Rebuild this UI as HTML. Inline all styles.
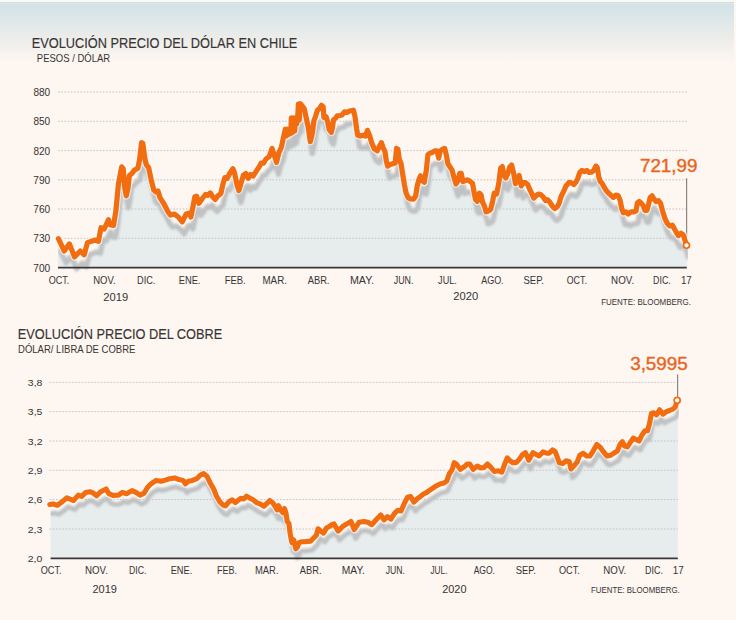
<!DOCTYPE html>
<html><head><meta charset="utf-8"><title>Evolución precio del dólar y del cobre</title>
<style>html,body{margin:0;padding:0;background:#fdf6f1;width:736px;height:620px;overflow:hidden}svg{display:block}</style>
</head><body>
<svg width="736" height="620" viewBox="0 0 736 620">
<defs>
<linearGradient id="bg" x1="0" y1="0" x2="0" y2="1">
<stop offset="0" stop-color="#d2e2e8"/>
<stop offset="0.5" stop-color="#e8ebe9"/>
<stop offset="1" stop-color="#fdf6f1"/>
</linearGradient>
<filter id="bl" x="-5%" y="-20%" width="110%" height="140%"><feGaussianBlur stdDeviation="0.95"/></filter>
<clipPath id="cl1"><rect x="58.0" y="80" width="629.8" height="200"/></clipPath>
<clipPath id="cl2"><rect x="50.6" y="370" width="628.2" height="200"/></clipPath>
</defs>
<rect width="736" height="620" fill="#fdf6f1"/>
<rect x="0" y="0" width="736" height="2" fill="#f6f9f4"/>
<rect x="0" y="2" width="734" height="1.5" fill="#d6dedf"/>
<rect x="0" y="3.5" width="734" height="58" fill="url(#bg)"/>
<path d="M58.0,267.6 L58.0,250.7 L60.4,250.7 L66.2,263.0 L71.4,255.9 L76.5,267.6 L82.3,263.0 L86.2,266.8 L89.4,254.6 L97.2,252.0 L100.4,253.3 L103.0,239.7 L106.2,241.0 L110.4,231.7 L112.2,236.9 L115.5,237.3 L117.8,223.4 L120.4,196.2 L123.7,178.8 L125.2,180.7 L126.8,200.0 L128.3,207.8 L130.0,200.0 L131.4,187.5 L133.9,185.5 L136.4,182.1 L139.8,180.3 L141.5,172.0 L143.6,154.6 L144.9,155.5 L146.9,171.0 L148.4,176.8 L150.7,179.7 L153.3,192.3 L155.8,202.0 L158.1,203.9 L160.0,202.9 L162.0,209.7 L165.8,215.5 L169.7,223.2 L172.6,227.1 L176.5,226.1 L180.3,229.0 L184.2,233.9 L188.1,226.1 L191.0,225.2 L192.9,229.0 L194.8,219.4 L196.8,208.7 L198.6,208.1 L201.0,215.4 L204.3,210.5 L207.5,206.5 L209.9,207.3 L212.3,204.9 L214.7,208.9 L217.2,211.4 L219.6,208.1 L222.8,205.7 L225.2,195.2 L226.8,189.6 L229.3,190.4 L231.7,185.5 L234.9,180.7 L236.5,184.7 L239.0,196.8 L240.9,202.5 L243.0,195.2 L245.4,187.2 L247.8,185.5 L250.2,190.4 L252.6,186.4 L255.1,188.0 L258.3,183.1 L261.5,178.3 L263.1,175.1 L265.5,175.1 L268.0,171.0 L271.2,168.6 L274.1,160.5 L276.0,166.2 L278.5,174.3 L280.9,164.6 L283.3,159.5 L285.2,150.5 L287.3,141.2 L288.4,148.0 L289.5,141.2 L290.6,146.5 L291.8,141.2 L292.8,145.5 L293.3,129.8 L294.4,144.5 L295.5,129.8 L296.6,143.0 L297.7,129.8 L298.6,136.0 L299.6,129.8 L300.4,116.0 L301.2,132.0 L302.0,115.5 L303.2,116.5 L304.3,118.1 L306.2,120.5 L307.8,127.8 L310.2,139.1 L312.3,153.6 L314.3,145.5 L315.9,132.6 L317.5,128.6 L319.4,122.2 L321.5,120.5 L323.6,117.3 L325.2,118.9 L325.9,129.4 L328.0,128.6 L329.6,133.5 L331.2,141.5 L333.3,144.3 L334.4,139.9 L335.5,131.8 L337.6,130.2 L339.3,127.8 L341.7,127.5 L344.1,127.0 L346.5,123.8 L348.9,124.6 L351.4,123.0 L355.4,122.2 L357.0,128.6 L358.6,140.7 L359.7,147.2 L362.6,148.0 L365.1,147.2 L367.5,148.0 L369.4,142.3 L371.5,147.2 L373.9,155.2 L376.4,160.9 L379.4,162.8 L381.5,158.0 L383.5,154.7 L385.1,159.6 L387.0,163.6 L388.3,172.5 L389.6,178.1 L392.3,176.5 L394.7,175.7 L397.2,174.9 L398.5,160.4 L399.9,161.2 L401.2,170.9 L403.1,175.7 L404.7,186.2 L406.4,196.7 L408.0,204.7 L410.1,209.6 L412.5,210.9 L415.4,211.2 L417.6,208.0 L419.3,197.5 L420.9,191.8 L422.6,187.8 L424.1,192.6 L426.2,194.3 L428.3,182.2 L429.9,166.8 L431.8,165.2 L434.3,164.4 L436.7,162.8 L439.1,162.8 L440.7,170.1 L442.3,162.8 L444.7,161.2 L446.7,160.4 L448.3,166.8 L449.9,175.7 L452.0,178.9 L454.1,182.2 L456.0,189.4 L458.0,195.9 L460.1,192.6 L461.7,185.4 L463.3,185.4 L464.9,193.5 L467.3,192.6 L469.7,191.8 L472.2,193.5 L474.5,195.3 L476.1,204.2 L477.6,211.7 L479.3,213.3 L481.4,205.2 L483.0,206.8 L484.6,214.1 L486.5,218.1 L488.1,223.8 L490.5,223.0 L492.6,221.4 L494.6,213.3 L496.2,205.2 L498.6,206.0 L500.7,195.5 L502.6,180.2 L504.3,178.6 L505.9,187.5 L507.8,189.9 L509.9,185.1 L511.5,179.4 L513.6,177.0 L515.5,184.3 L517.5,195.5 L519.6,192.3 L521.2,187.5 L523.3,198.0 L525.2,194.7 L527.6,194.7 L529.7,196.4 L531.7,201.2 L533.6,205.2 L535.7,210.1 L538.1,207.6 L540.5,206.0 L543.0,206.8 L545.4,209.3 L547.5,212.5 L549.4,211.7 L551.8,214.1 L554.3,218.1 L556.7,220.5 L559.1,218.9 L561.0,215.7 L563.1,208.5 L565.5,203.6 L568.0,198.0 L571.0,194.4 L573.5,194.9 L575.9,196.5 L578.0,194.1 L579.9,190.1 L581.8,184.4 L583.9,182.5 L586.4,183.6 L588.8,182.5 L591.2,184.4 L593.6,184.1 L595.7,182.5 L598.0,178.0 L599.3,179.6 L600.9,189.3 L602.2,193.3 L604.4,195.7 L606.5,199.7 L608.6,203.0 L610.9,205.4 L613.5,207.8 L615.4,209.4 L617.8,207.0 L620.2,207.8 L622.2,212.6 L623.8,220.7 L625.4,224.7 L628.0,223.9 L630.2,226.0 L632.8,223.9 L635.5,223.9 L638.0,223.1 L639.3,215.1 L641.2,213.5 L643.1,215.1 L645.2,217.5 L646.8,222.3 L648.9,222.3 L650.5,216.7 L652.2,209.4 L654.1,207.8 L656.0,211.0 L658.1,213.5 L660.5,212.6 L662.5,215.1 L664.6,223.0 L667.0,230.7 L669.4,235.5 L671.8,238.0 L674.3,237.2 L676.2,240.4 L678.3,244.4 L680.4,247.6 L683.1,245.2 L685.2,246.8 L686.8,251.7 L686.8,257.3 L686.8,267.6 Z" fill="#e7eced"/>
<g clip-path="url(#cl1)"><path d="M60.4,250.7 L66.2,263.0 L71.4,255.9 L76.5,268.8 L82.3,263.0 L86.2,266.8 L89.4,254.6 L97.2,252.0 L100.4,253.3 L103.0,239.7 L106.2,241.0 L110.4,231.7 L112.2,236.9 L115.5,237.3 L117.8,223.4 L120.4,196.2 L123.7,178.8 L125.2,180.7 L126.8,200.0 L128.3,207.8 L130.0,200.0 L131.4,187.5 L133.9,185.5 L136.4,182.1 L139.8,180.3 L141.5,172.0 L143.6,154.6 L144.9,155.5 L146.9,171.0 L148.4,176.8 L150.7,179.7 L153.3,192.3 L155.8,202.0 L158.1,203.9 L160.0,202.9 L162.0,209.7 L165.8,215.5 L169.7,223.2 L172.6,227.1 L176.5,226.1 L180.3,229.0 L184.2,233.9 L188.1,226.1 L191.0,225.2 L192.9,229.0 L194.8,219.4 L196.8,208.7 L198.6,208.1 L201.0,215.4 L204.3,210.5 L207.5,206.5 L209.9,207.3 L212.3,204.9 L214.7,208.9 L217.2,211.4 L219.6,208.1 L222.8,205.7 L225.2,195.2 L226.8,189.6 L229.3,190.4 L231.7,185.5 L234.9,180.7 L236.5,184.7 L239.0,196.8 L240.9,202.5 L243.0,195.2 L245.4,187.2 L247.8,185.5 L250.2,190.4 L252.6,186.4 L255.1,188.0 L258.3,183.1 L261.5,178.3 L263.1,175.1 L265.5,175.1 L268.0,171.0 L271.2,168.6 L274.1,160.5 L276.0,166.2 L278.5,174.3 L280.9,164.6 L283.3,159.5 L285.2,150.5 L287.3,141.2 L288.4,148.0 L289.5,141.2 L290.6,146.5 L291.8,141.2 L292.8,145.5 L293.3,129.8 L294.4,144.5 L295.5,129.8 L296.6,143.0 L297.7,129.8 L298.6,136.0 L299.6,129.8 L300.4,116.0 L301.2,132.0 L302.0,115.5 L303.2,116.5 L304.3,118.1 L306.2,120.5 L307.8,127.8 L310.2,139.1 L312.3,153.6 L314.3,145.5 L315.9,132.6 L317.5,128.6 L319.4,122.2 L321.5,120.5 L323.6,117.3 L325.2,118.9 L325.9,129.4 L328.0,128.6 L329.6,133.5 L331.2,141.5 L333.3,144.3 L334.4,139.9 L335.5,131.8 L337.6,130.2 L339.3,127.8 L341.7,127.5 L344.1,127.0 L346.5,123.8 L348.9,124.6 L351.4,123.0 L355.4,122.2 L357.0,128.6 L358.6,140.7 L359.7,147.2 L362.6,148.0 L365.1,147.2 L367.5,148.0 L369.4,142.3 L371.5,147.2 L373.9,155.2 L376.4,160.9 L379.4,162.8 L381.5,158.0 L383.5,154.7 L385.1,159.6 L387.0,163.6 L388.3,172.5 L389.6,178.1 L392.3,176.5 L394.7,175.7 L397.2,174.9 L398.5,160.4 L399.9,161.2 L401.2,170.9 L403.1,175.7 L404.7,186.2 L406.4,196.7 L408.0,204.7 L410.1,209.6 L412.5,210.9 L415.4,211.2 L417.6,208.0 L419.3,197.5 L420.9,191.8 L422.6,187.8 L424.1,192.6 L426.2,194.3 L428.3,182.2 L429.9,166.8 L431.8,165.2 L434.3,164.4 L436.7,162.8 L439.1,162.8 L440.7,170.1 L442.3,162.8 L444.7,161.2 L446.7,160.4 L448.3,166.8 L449.9,175.7 L452.0,178.9 L454.1,182.2 L456.0,189.4 L458.0,195.9 L460.1,192.6 L461.7,185.4 L463.3,185.4 L464.9,193.5 L467.3,192.6 L469.7,191.8 L472.2,193.5 L474.5,195.3 L476.1,204.2 L477.6,211.7 L479.3,213.3 L481.4,205.2 L483.0,206.8 L484.6,214.1 L486.5,218.1 L488.1,223.8 L490.5,223.0 L492.6,221.4 L494.6,213.3 L496.2,205.2 L498.6,206.0 L500.7,195.5 L502.6,180.2 L504.3,178.6 L505.9,187.5 L507.8,189.9 L509.9,185.1 L511.5,179.4 L513.6,177.0 L515.5,184.3 L517.5,195.5 L519.6,192.3 L521.2,187.5 L523.3,198.0 L525.2,194.7 L527.6,194.7 L529.7,196.4 L531.7,201.2 L533.6,205.2 L535.7,210.1 L538.1,207.6 L540.5,206.0 L543.0,206.8 L545.4,209.3 L547.5,212.5 L549.4,211.7 L551.8,214.1 L554.3,218.1 L556.7,220.5 L559.1,218.9 L561.0,215.7 L563.1,208.5 L565.5,203.6 L568.0,198.0 L571.0,194.4 L573.5,194.9 L575.9,196.5 L578.0,194.1 L579.9,190.1 L581.8,184.4 L583.9,182.5 L586.4,183.6 L588.8,182.5 L591.2,184.4 L593.6,184.1 L595.7,182.5 L598.0,178.0 L599.3,179.6 L600.9,189.3 L602.2,193.3 L604.4,195.7 L606.5,199.7 L608.6,203.0 L610.9,205.4 L613.5,207.8 L615.4,209.4 L617.8,207.0 L620.2,207.8 L622.2,212.6 L623.8,220.7 L625.4,224.7 L628.0,223.9 L630.2,226.0 L632.8,223.9 L635.5,223.9 L638.0,223.1 L639.3,215.1 L641.2,213.5 L643.1,215.1 L645.2,217.5 L646.8,222.3 L648.9,222.3 L650.5,216.7 L652.2,209.4 L654.1,207.8 L656.0,211.0 L658.1,213.5 L660.5,212.6 L662.5,215.1 L664.6,223.0 L667.0,230.7 L669.4,235.5 L671.8,238.0 L674.3,237.2 L676.2,240.4 L678.3,244.4 L680.4,247.6 L683.1,245.2 L685.2,246.8 L686.8,251.7 L688.5,257.3" fill="none" stroke="#babdbf" stroke-opacity="0.9" stroke-width="5.2" stroke-linejoin="round" stroke-linecap="round" filter="url(#bl)"/></g>
<line x1="58.0" y1="92.0" x2="686.8" y2="92.0" stroke="#c6c3c0" stroke-width="1" stroke-dasharray="1.6 1.6"/>
<line x1="58.0" y1="121.3" x2="686.8" y2="121.3" stroke="#c6c3c0" stroke-width="1" stroke-dasharray="1.6 1.6"/>
<line x1="58.0" y1="150.6" x2="686.8" y2="150.6" stroke="#c6c3c0" stroke-width="1" stroke-dasharray="1.6 1.6"/>
<line x1="58.0" y1="179.8" x2="686.8" y2="179.8" stroke="#c6c3c0" stroke-width="1" stroke-dasharray="1.6 1.6"/>
<line x1="58.0" y1="209.0" x2="686.8" y2="209.0" stroke="#c6c3c0" stroke-width="1" stroke-dasharray="1.6 1.6"/>
<line x1="58.0" y1="238.3" x2="686.8" y2="238.3" stroke="#c6c3c0" stroke-width="1" stroke-dasharray="1.6 1.6"/>
<line x1="58.0" y1="267.6" x2="686.8" y2="267.6" stroke="#3c3838" stroke-width="1.6"/>
<line x1="686.6" y1="178.2" x2="686.6" y2="245.3" stroke="#8a8583" stroke-width="1.2"/>
<path d="M58.4,238.7 L64.2,251.0 L69.4,243.9 L74.5,256.8 L80.3,251.0 L84.2,254.8 L87.4,242.6 L95.2,240.0 L98.4,241.3 L101.0,227.7 L104.2,229.0 L108.4,219.7 L110.2,224.9 L113.5,225.3 L115.8,211.4 L118.4,184.2 L121.7,166.8 L123.2,168.7 L124.8,188.0 L126.3,195.8 L128.0,188.0 L129.4,175.5 L131.9,173.5 L134.4,170.1 L137.8,168.3 L139.5,160.0 L141.6,142.6 L142.9,143.5 L144.9,159.0 L146.4,164.8 L148.7,167.7 L151.3,180.3 L153.8,190.0 L156.1,191.9 L158.0,190.9 L160.0,197.7 L163.8,203.5 L167.7,211.2 L170.6,215.1 L174.5,214.1 L178.3,217.0 L182.2,221.9 L186.1,214.1 L189.0,213.2 L190.9,217.0 L192.8,207.4 L194.8,196.7 L196.6,196.1 L199.0,203.4 L202.3,198.5 L205.5,194.5 L207.9,195.3 L210.3,192.9 L212.7,196.9 L215.2,199.4 L217.6,196.1 L220.8,193.7 L223.2,183.2 L224.8,177.6 L227.3,178.4 L229.7,173.5 L232.9,168.7 L234.5,172.7 L237.0,184.8 L238.9,190.5 L241.0,183.2 L243.4,175.2 L245.8,173.5 L248.2,178.4 L250.6,174.4 L253.1,176.0 L256.3,171.1 L259.5,166.3 L261.1,163.1 L263.5,163.1 L266.0,159.0 L269.2,156.6 L272.1,148.5 L274.0,154.2 L276.5,162.3 L278.9,152.6 L281.3,147.5 L283.2,138.5 L285.3,129.2 L286.4,136.0 L287.5,129.2 L288.6,134.5 L289.8,129.2 L290.8,133.5 L291.3,117.8 L292.4,132.5 L293.5,117.8 L294.6,131.0 L295.7,117.8 L296.6,124.0 L297.6,117.8 L298.4,104.0 L299.2,120.0 L300.0,103.5 L301.2,104.5 L302.3,106.1 L304.2,108.5 L305.8,115.8 L308.2,127.1 L310.3,141.6 L312.3,133.5 L313.9,120.6 L315.5,116.6 L317.4,110.2 L319.5,108.5 L321.6,105.3 L323.2,106.9 L323.9,117.4 L326.0,116.6 L327.6,121.5 L329.2,129.5 L331.3,132.3 L332.4,127.9 L333.5,119.8 L335.6,118.2 L337.3,115.8 L339.7,115.5 L342.1,115.0 L344.5,111.8 L346.9,112.6 L349.4,111.0 L353.4,110.2 L355.0,116.6 L356.6,128.7 L357.7,135.2 L360.6,136.0 L363.1,135.2 L365.5,136.0 L367.4,130.3 L369.5,135.2 L371.9,143.2 L374.4,148.9 L377.4,150.8 L379.5,146.0 L381.5,142.7 L383.1,147.6 L385.0,151.6 L386.3,160.5 L387.6,166.1 L390.3,164.5 L392.7,163.7 L395.2,162.9 L396.5,148.4 L397.9,149.2 L399.2,158.9 L401.1,163.7 L402.7,174.2 L404.4,184.7 L406.0,192.7 L408.1,197.6 L410.5,198.9 L413.4,199.2 L415.6,196.0 L417.3,185.5 L418.9,179.8 L420.6,175.8 L422.1,180.6 L424.2,182.3 L426.3,170.2 L427.9,154.8 L429.8,153.2 L432.3,152.4 L434.7,150.8 L437.1,150.8 L438.7,158.1 L440.3,150.8 L442.7,149.2 L444.7,148.4 L446.3,154.8 L447.9,163.7 L450.0,166.9 L452.1,170.2 L454.0,177.4 L456.0,183.9 L458.1,180.6 L459.7,173.4 L461.3,173.4 L462.9,181.5 L465.3,180.6 L467.7,179.8 L470.2,181.5 L472.5,183.3 L474.1,192.2 L475.6,199.7 L477.3,201.3 L479.4,193.2 L481.0,194.8 L482.6,202.1 L484.5,206.1 L486.1,211.8 L488.5,211.0 L490.6,209.4 L492.6,201.3 L494.2,193.2 L496.6,194.0 L498.7,183.5 L500.6,168.2 L502.3,166.6 L503.9,175.5 L505.8,177.9 L507.9,173.1 L509.5,167.4 L511.6,165.0 L513.5,172.3 L515.5,183.5 L517.6,180.3 L519.2,175.5 L521.3,186.0 L523.2,182.7 L525.6,182.7 L527.7,184.4 L529.7,189.2 L531.6,193.2 L533.7,198.1 L536.1,195.6 L538.5,194.0 L541.0,194.8 L543.4,197.3 L545.5,200.5 L547.4,199.7 L549.8,202.1 L552.3,206.1 L554.7,208.5 L557.1,206.9 L559.0,203.7 L561.1,196.5 L563.5,191.6 L566.0,186.0 L569.0,182.4 L571.5,182.9 L573.9,184.5 L576.0,182.1 L577.9,178.1 L579.8,172.4 L581.9,170.5 L584.4,171.6 L586.8,170.5 L589.2,172.4 L591.6,172.1 L593.7,170.5 L596.0,166.0 L597.3,167.6 L598.9,177.3 L600.2,181.3 L602.4,183.7 L604.5,187.7 L606.6,191.0 L608.9,193.4 L611.5,195.8 L613.4,197.4 L615.8,195.0 L618.2,195.8 L620.2,200.6 L621.8,208.7 L623.4,212.7 L626.0,211.9 L628.2,214.0 L630.8,211.9 L633.5,211.9 L636.0,211.1 L637.3,203.1 L639.2,201.5 L641.1,203.1 L643.2,205.5 L644.8,210.3 L646.9,210.3 L648.5,204.7 L650.2,197.4 L652.1,195.8 L654.0,199.0 L656.1,201.5 L658.5,200.6 L660.5,203.1 L662.6,211.0 L665.0,218.7 L667.4,223.5 L669.8,226.0 L672.3,225.2 L674.2,228.4 L676.3,232.4 L678.4,235.6 L681.1,233.2 L683.2,234.8 L684.8,239.7 L686.5,245.3" fill="none" stroke="#ffffff" stroke-opacity="0.6" stroke-width="7.7" stroke-linejoin="round" stroke-linecap="round"/>
<path d="M58.4,238.7 L64.2,251.0 L69.4,243.9 L74.5,256.8 L80.3,251.0 L84.2,254.8 L87.4,242.6 L95.2,240.0 L98.4,241.3 L101.0,227.7 L104.2,229.0 L108.4,219.7 L110.2,224.9 L113.5,225.3 L115.8,211.4 L118.4,184.2 L121.7,166.8 L123.2,168.7 L124.8,188.0 L126.3,195.8 L128.0,188.0 L129.4,175.5 L131.9,173.5 L134.4,170.1 L137.8,168.3 L139.5,160.0 L141.6,142.6 L142.9,143.5 L144.9,159.0 L146.4,164.8 L148.7,167.7 L151.3,180.3 L153.8,190.0 L156.1,191.9 L158.0,190.9 L160.0,197.7 L163.8,203.5 L167.7,211.2 L170.6,215.1 L174.5,214.1 L178.3,217.0 L182.2,221.9 L186.1,214.1 L189.0,213.2 L190.9,217.0 L192.8,207.4 L194.8,196.7 L196.6,196.1 L199.0,203.4 L202.3,198.5 L205.5,194.5 L207.9,195.3 L210.3,192.9 L212.7,196.9 L215.2,199.4 L217.6,196.1 L220.8,193.7 L223.2,183.2 L224.8,177.6 L227.3,178.4 L229.7,173.5 L232.9,168.7 L234.5,172.7 L237.0,184.8 L238.9,190.5 L241.0,183.2 L243.4,175.2 L245.8,173.5 L248.2,178.4 L250.6,174.4 L253.1,176.0 L256.3,171.1 L259.5,166.3 L261.1,163.1 L263.5,163.1 L266.0,159.0 L269.2,156.6 L272.1,148.5 L274.0,154.2 L276.5,162.3 L278.9,152.6 L281.3,147.5 L283.2,138.5 L285.3,129.2 L286.4,136.0 L287.5,129.2 L288.6,134.5 L289.8,129.2 L290.8,133.5 L291.3,117.8 L292.4,132.5 L293.5,117.8 L294.6,131.0 L295.7,117.8 L296.6,124.0 L297.6,117.8 L298.4,104.0 L299.2,120.0 L300.0,103.5 L301.2,104.5 L302.3,106.1 L304.2,108.5 L305.8,115.8 L308.2,127.1 L310.3,141.6 L312.3,133.5 L313.9,120.6 L315.5,116.6 L317.4,110.2 L319.5,108.5 L321.6,105.3 L323.2,106.9 L323.9,117.4 L326.0,116.6 L327.6,121.5 L329.2,129.5 L331.3,132.3 L332.4,127.9 L333.5,119.8 L335.6,118.2 L337.3,115.8 L339.7,115.5 L342.1,115.0 L344.5,111.8 L346.9,112.6 L349.4,111.0 L353.4,110.2 L355.0,116.6 L356.6,128.7 L357.7,135.2 L360.6,136.0 L363.1,135.2 L365.5,136.0 L367.4,130.3 L369.5,135.2 L371.9,143.2 L374.4,148.9 L377.4,150.8 L379.5,146.0 L381.5,142.7 L383.1,147.6 L385.0,151.6 L386.3,160.5 L387.6,166.1 L390.3,164.5 L392.7,163.7 L395.2,162.9 L396.5,148.4 L397.9,149.2 L399.2,158.9 L401.1,163.7 L402.7,174.2 L404.4,184.7 L406.0,192.7 L408.1,197.6 L410.5,198.9 L413.4,199.2 L415.6,196.0 L417.3,185.5 L418.9,179.8 L420.6,175.8 L422.1,180.6 L424.2,182.3 L426.3,170.2 L427.9,154.8 L429.8,153.2 L432.3,152.4 L434.7,150.8 L437.1,150.8 L438.7,158.1 L440.3,150.8 L442.7,149.2 L444.7,148.4 L446.3,154.8 L447.9,163.7 L450.0,166.9 L452.1,170.2 L454.0,177.4 L456.0,183.9 L458.1,180.6 L459.7,173.4 L461.3,173.4 L462.9,181.5 L465.3,180.6 L467.7,179.8 L470.2,181.5 L472.5,183.3 L474.1,192.2 L475.6,199.7 L477.3,201.3 L479.4,193.2 L481.0,194.8 L482.6,202.1 L484.5,206.1 L486.1,211.8 L488.5,211.0 L490.6,209.4 L492.6,201.3 L494.2,193.2 L496.6,194.0 L498.7,183.5 L500.6,168.2 L502.3,166.6 L503.9,175.5 L505.8,177.9 L507.9,173.1 L509.5,167.4 L511.6,165.0 L513.5,172.3 L515.5,183.5 L517.6,180.3 L519.2,175.5 L521.3,186.0 L523.2,182.7 L525.6,182.7 L527.7,184.4 L529.7,189.2 L531.6,193.2 L533.7,198.1 L536.1,195.6 L538.5,194.0 L541.0,194.8 L543.4,197.3 L545.5,200.5 L547.4,199.7 L549.8,202.1 L552.3,206.1 L554.7,208.5 L557.1,206.9 L559.0,203.7 L561.1,196.5 L563.5,191.6 L566.0,186.0 L569.0,182.4 L571.5,182.9 L573.9,184.5 L576.0,182.1 L577.9,178.1 L579.8,172.4 L581.9,170.5 L584.4,171.6 L586.8,170.5 L589.2,172.4 L591.6,172.1 L593.7,170.5 L596.0,166.0 L597.3,167.6 L598.9,177.3 L600.2,181.3 L602.4,183.7 L604.5,187.7 L606.6,191.0 L608.9,193.4 L611.5,195.8 L613.4,197.4 L615.8,195.0 L618.2,195.8 L620.2,200.6 L621.8,208.7 L623.4,212.7 L626.0,211.9 L628.2,214.0 L630.8,211.9 L633.5,211.9 L636.0,211.1 L637.3,203.1 L639.2,201.5 L641.1,203.1 L643.2,205.5 L644.8,210.3 L646.9,210.3 L648.5,204.7 L650.2,197.4 L652.1,195.8 L654.0,199.0 L656.1,201.5 L658.5,200.6 L660.5,203.1 L662.6,211.0 L665.0,218.7 L667.4,223.5 L669.8,226.0 L672.3,225.2 L674.2,228.4 L676.3,232.4 L678.4,235.6 L681.1,233.2 L683.2,234.8 L684.8,239.7 L686.5,245.3" fill="none" stroke="#f26c10" stroke-width="5.2" stroke-linejoin="round" stroke-linecap="round"/>
<circle cx="686.5" cy="245.3" r="3.0" fill="#fff" stroke="#f26c10" stroke-width="1.7"/>
<path d="M50.6,558.4 L50.6,513.6 L51.3,513.6 L54.7,512.9 L58.7,514.3 L63.5,510.9 L68.2,506.8 L71.6,508.2 L75.0,509.5 L79.8,504.1 L83.2,505.4 L87.3,501.4 L91.3,500.7 L94.7,502.0 L98.1,504.8 L102.2,500.7 L107.6,498.0 L110.4,502.7 L114.4,504.4 L119.9,504.1 L123.9,501.4 L128.0,502.7 L133.5,499.6 L137.5,501.4 L141.6,504.1 L145.7,502.1 L149.1,496.2 L152.5,492.8 L157.6,489.4 L162.7,490.3 L166.9,489.1 L171.2,487.7 L176.2,486.9 L180.5,488.6 L184.7,489.4 L186.9,492.8 L189.8,490.3 L194.0,489.4 L198.3,487.7 L201.7,484.3 L205.1,482.6 L208.4,485.2 L211.8,492.0 L215.2,497.9 L217.8,504.7 L221.2,510.6 L224.6,514.0 L227.1,514.8 L230.5,510.6 L233.9,508.9 L236.9,511.6 L239.4,509.5 L242.3,507.3 L245.2,508.0 L248.1,505.1 L251.0,506.9 L254.6,508.8 L258.3,511.7 L261.9,513.1 L265.5,515.3 L268.4,512.4 L271.3,509.5 L274.2,511.7 L277.1,516.0 L278.6,518.9 L280.0,514.6 L282.7,519.6 L284.4,521.8 L286.1,517.5 L287.6,522.5 L288.7,530.5 L290.5,532.7 L291.7,542.9 L293.4,551.6 L295.3,549.0 L297.3,557.8 L299.0,556.0 L300.5,551.6 L303.3,550.8 L306.2,550.8 L309.1,550.4 L312.0,550.1 L314.9,547.2 L317.8,544.3 L319.5,537.8 L322.1,540.0 L325.0,542.1 L327.9,537.1 L330.8,535.6 L333.7,533.4 L335.5,532.9 L339.6,540.1 L344.4,535.3 L348.4,532.9 L352.5,530.5 L355.7,538.5 L360.5,531.3 L365.4,530.5 L369.4,531.3 L373.4,533.7 L378.3,528.0 L382.3,524.0 L385.5,528.8 L388.8,525.6 L392.5,528.0 L396.0,522.4 L399.2,519.2 L402.5,520.0 L405.7,512.7 L408.9,506.3 L412.1,505.5 L415.4,511.1 L418.6,507.9 L421.8,505.5 L425.0,503.0 L428.3,501.4 L429.9,500.1 L434.0,497.4 L438.0,494.7 L442.1,492.7 L445.5,492.0 L448.2,490.0 L451.0,482.5 L453.7,478.4 L455.7,471.6 L458.4,473.6 L461.8,478.4 L465.9,475.7 L468.6,473.0 L471.3,473.0 L474.7,478.4 L478.8,475.0 L482.2,477.0 L485.6,476.4 L489.0,473.0 L492.4,476.4 L495.8,480.4 L499.9,479.8 L503.3,481.1 L506.0,473.6 L508.7,466.9 L511.4,469.6 L514.1,471.6 L517.5,471.6 L520.3,468.9 L522.0,466.5 L524.0,463.6 L526.9,461.6 L530.3,469.1 L534.4,461.6 L537.8,463.6 L540.5,465.0 L544.6,460.9 L548.7,462.3 L550.7,462.3 L554.1,458.9 L556.8,460.9 L558.9,466.4 L560.9,471.8 L564.3,472.5 L567.7,469.8 L570.7,470.4 L572.5,477.9 L575.2,475.2 L578.6,471.1 L581.3,464.3 L584.7,462.3 L588.1,465.0 L591.5,465.0 L594.9,459.6 L598.3,453.5 L601.7,456.2 L605.1,460.9 L608.5,465.0 L611.9,464.3 L615.1,462.3 L618.8,460.1 L621.7,452.9 L623.8,450.7 L626.0,455.0 L628.9,455.8 L631.8,451.4 L634.7,447.1 L637.6,448.5 L640.5,450.0 L643.4,444.2 L646.3,439.8 L649.0,439.8 L651.0,432.5 L652.9,422.4 L655.0,421.7 L658.0,423.8 L661.1,418.8 L664.5,423.1 L667.4,420.9 L671.0,419.5 L674.6,418.0 L676.8,415.9 L677.8,409.3 L677.8,558.4 Z" fill="#e7eced"/>
<g clip-path="url(#cl2)"><path d="M51.3,513.6 L54.7,512.9 L58.7,514.3 L63.5,510.9 L68.2,506.8 L71.6,508.2 L75.0,509.5 L79.8,504.1 L83.2,505.4 L87.3,501.4 L91.3,500.7 L94.7,502.0 L98.1,504.8 L102.2,500.7 L107.6,498.0 L110.4,502.7 L114.4,504.4 L119.9,504.1 L123.9,501.4 L128.0,502.7 L133.5,499.6 L137.5,501.4 L141.6,504.1 L145.7,502.1 L149.1,496.2 L152.5,492.8 L157.6,489.4 L162.7,490.3 L166.9,489.1 L171.2,487.7 L176.2,486.9 L180.5,488.6 L184.7,489.4 L186.9,492.8 L189.8,490.3 L194.0,489.4 L198.3,487.7 L201.7,484.3 L205.1,482.6 L208.4,485.2 L211.8,492.0 L215.2,497.9 L217.8,504.7 L221.2,510.6 L224.6,514.0 L227.1,514.8 L230.5,510.6 L233.9,508.9 L236.9,511.6 L239.4,509.5 L242.3,507.3 L245.2,508.0 L248.1,505.1 L251.0,506.9 L254.6,508.8 L258.3,511.7 L261.9,513.1 L265.5,515.3 L268.4,512.4 L271.3,509.5 L274.2,511.7 L277.1,516.0 L278.6,518.9 L280.0,514.6 L282.7,519.6 L284.4,521.8 L286.1,517.5 L287.6,522.5 L288.7,530.5 L290.5,532.7 L291.7,542.9 L293.4,551.6 L295.3,549.0 L297.3,557.8 L299.0,556.0 L300.5,551.6 L303.3,550.8 L306.2,550.8 L309.1,550.4 L312.0,550.1 L314.9,547.2 L317.8,544.3 L319.5,537.8 L322.1,540.0 L325.0,542.1 L327.9,537.1 L330.8,535.6 L333.7,533.4 L335.5,532.9 L339.6,540.1 L344.4,535.3 L348.4,532.9 L352.5,530.5 L355.7,538.5 L360.5,531.3 L365.4,530.5 L369.4,531.3 L373.4,533.7 L378.3,528.0 L382.3,524.0 L385.5,528.8 L388.8,525.6 L392.5,528.0 L396.0,522.4 L399.2,519.2 L402.5,520.0 L405.7,512.7 L408.9,506.3 L412.1,505.5 L415.4,511.1 L418.6,507.9 L421.8,505.5 L425.0,503.0 L428.3,501.4 L429.9,500.1 L434.0,497.4 L438.0,494.7 L442.1,492.7 L445.5,492.0 L448.2,490.0 L451.0,482.5 L453.7,478.4 L455.7,471.6 L458.4,473.6 L461.8,478.4 L465.9,475.7 L468.6,473.0 L471.3,473.0 L474.7,478.4 L478.8,475.0 L482.2,477.0 L485.6,476.4 L489.0,473.0 L492.4,476.4 L495.8,480.4 L499.9,479.8 L503.3,481.1 L506.0,473.6 L508.7,466.9 L511.4,469.6 L514.1,471.6 L517.5,471.6 L520.3,468.9 L522.0,466.5 L524.0,463.6 L526.9,461.6 L530.3,469.1 L534.4,461.6 L537.8,463.6 L540.5,465.0 L544.6,460.9 L548.7,462.3 L550.7,462.3 L554.1,458.9 L556.8,460.9 L558.9,466.4 L560.9,471.8 L564.3,472.5 L567.7,469.8 L570.7,470.4 L572.5,477.9 L575.2,475.2 L578.6,471.1 L581.3,464.3 L584.7,462.3 L588.1,465.0 L591.5,465.0 L594.9,459.6 L598.3,453.5 L601.7,456.2 L605.1,460.9 L608.5,465.0 L611.9,464.3 L615.1,462.3 L618.8,460.1 L621.7,452.9 L623.8,450.7 L626.0,455.0 L628.9,455.8 L631.8,451.4 L634.7,447.1 L637.6,448.5 L640.5,450.0 L643.4,444.2 L646.3,439.8 L649.0,439.8 L651.0,432.5 L652.9,422.4 L655.0,421.7 L658.0,423.8 L661.1,418.8 L664.5,423.1 L667.4,420.9 L671.0,419.5 L674.6,418.0 L676.8,415.9 L678.7,409.3" fill="none" stroke="#babdbf" stroke-opacity="0.9" stroke-width="4.8" stroke-linejoin="round" stroke-linecap="round" filter="url(#bl)"/></g>
<line x1="49.5" y1="382.4" x2="677.8" y2="382.4" stroke="#c6c3c0" stroke-width="1" stroke-dasharray="1.6 1.6"/>
<line x1="49.5" y1="411.6" x2="677.8" y2="411.6" stroke="#c6c3c0" stroke-width="1" stroke-dasharray="1.6 1.6"/>
<line x1="49.5" y1="441.0" x2="677.8" y2="441.0" stroke="#c6c3c0" stroke-width="1" stroke-dasharray="1.6 1.6"/>
<line x1="49.5" y1="470.3" x2="677.8" y2="470.3" stroke="#c6c3c0" stroke-width="1" stroke-dasharray="1.6 1.6"/>
<line x1="49.5" y1="499.5" x2="677.8" y2="499.5" stroke="#c6c3c0" stroke-width="1" stroke-dasharray="1.6 1.6"/>
<line x1="49.5" y1="529.0" x2="677.8" y2="529.0" stroke="#c6c3c0" stroke-width="1" stroke-dasharray="1.6 1.6"/>
<line x1="50.6" y1="558.4" x2="677.8" y2="558.4" stroke="#3c3838" stroke-width="1.6"/>
<line x1="677.6" y1="374.6" x2="677.6" y2="400.3" stroke="#8a8583" stroke-width="1.2"/>
<path d="M49.8,504.6 L53.2,503.9 L57.2,505.3 L62.0,501.9 L66.7,497.8 L70.1,499.2 L73.5,500.5 L78.3,495.1 L81.7,496.4 L85.8,492.4 L89.8,491.7 L93.2,493.0 L96.6,495.8 L100.7,491.7 L106.1,489.0 L108.9,493.7 L112.9,495.4 L118.4,495.1 L122.4,492.4 L126.5,493.7 L132.0,490.6 L136.0,492.4 L140.1,495.1 L144.2,493.1 L147.6,487.2 L151.0,483.8 L156.1,480.4 L161.2,481.3 L165.4,480.1 L169.7,478.7 L174.7,477.9 L179.0,479.6 L183.2,480.4 L185.4,483.8 L188.3,481.3 L192.5,480.4 L196.8,478.7 L200.2,475.3 L203.6,473.6 L206.9,476.2 L210.3,483.0 L213.7,488.9 L216.3,495.7 L219.7,501.6 L223.1,505.0 L225.6,505.8 L229.0,501.6 L232.4,499.9 L235.4,502.6 L237.9,500.5 L240.8,498.3 L243.7,499.0 L246.6,496.1 L249.5,497.9 L253.1,499.8 L256.8,502.7 L260.4,504.1 L264.0,506.3 L266.9,503.4 L269.8,500.5 L272.7,502.7 L275.6,507.0 L277.1,509.9 L278.5,505.6 L281.2,510.6 L282.9,512.8 L284.6,508.5 L286.1,513.5 L287.2,521.5 L289.0,523.7 L290.2,533.9 L291.9,542.6 L293.8,540.0 L295.8,548.8 L297.5,547.0 L299.0,542.6 L301.8,541.8 L304.7,541.8 L307.6,541.4 L310.5,541.1 L313.4,538.2 L316.3,535.3 L318.0,528.8 L320.6,531.0 L323.5,533.1 L326.4,528.1 L329.3,526.6 L332.2,524.4 L334.0,523.9 L338.1,531.1 L342.9,526.3 L346.9,523.9 L351.0,521.5 L354.2,529.5 L359.0,522.3 L363.9,521.5 L367.9,522.3 L371.9,524.7 L376.8,519.0 L380.8,515.0 L384.0,519.8 L387.3,516.6 L391.0,519.0 L394.5,513.4 L397.7,510.2 L401.0,511.0 L404.2,503.7 L407.4,497.3 L410.6,496.5 L413.9,502.1 L417.1,498.9 L420.3,496.5 L423.5,494.0 L426.8,492.4 L428.4,491.1 L432.5,488.4 L436.5,485.7 L440.6,483.7 L444.0,483.0 L446.7,481.0 L449.5,473.5 L452.2,469.4 L454.2,462.6 L456.9,464.6 L460.3,469.4 L464.4,466.7 L467.1,464.0 L469.8,464.0 L473.2,469.4 L477.3,466.0 L480.7,468.0 L484.1,467.4 L487.5,464.0 L490.9,467.4 L494.3,471.4 L498.4,470.8 L501.8,472.1 L504.5,464.6 L507.2,457.9 L509.9,460.6 L512.6,462.6 L516.0,462.6 L518.8,459.9 L520.5,457.5 L522.5,454.6 L525.4,452.6 L528.8,460.1 L532.9,452.6 L536.3,454.6 L539.0,456.0 L543.1,451.9 L547.2,453.3 L549.2,453.3 L552.6,449.9 L555.3,451.9 L557.4,457.4 L559.4,462.8 L562.8,463.5 L566.2,460.8 L569.2,461.4 L571.0,468.9 L573.7,466.2 L577.1,462.1 L579.8,455.3 L583.2,453.3 L586.6,456.0 L590.0,456.0 L593.4,450.6 L596.8,444.5 L600.2,447.2 L603.6,451.9 L607.0,456.0 L610.4,455.3 L613.6,453.3 L617.3,451.1 L620.2,443.9 L622.3,441.7 L624.5,446.0 L627.4,446.8 L630.3,442.4 L633.2,438.1 L636.1,439.5 L639.0,441.0 L641.9,435.2 L644.8,430.8 L647.5,430.8 L649.5,423.5 L651.4,413.4 L653.5,412.7 L656.5,414.8 L659.6,409.8 L663.0,414.1 L665.9,411.9 L669.5,410.5 L673.1,409.0 L675.3,406.9 L677.2,400.3" fill="none" stroke="#ffffff" stroke-opacity="0.6" stroke-width="7.6" stroke-linejoin="round" stroke-linecap="round"/>
<path d="M49.8,504.6 L53.2,503.9 L57.2,505.3 L62.0,501.9 L66.7,497.8 L70.1,499.2 L73.5,500.5 L78.3,495.1 L81.7,496.4 L85.8,492.4 L89.8,491.7 L93.2,493.0 L96.6,495.8 L100.7,491.7 L106.1,489.0 L108.9,493.7 L112.9,495.4 L118.4,495.1 L122.4,492.4 L126.5,493.7 L132.0,490.6 L136.0,492.4 L140.1,495.1 L144.2,493.1 L147.6,487.2 L151.0,483.8 L156.1,480.4 L161.2,481.3 L165.4,480.1 L169.7,478.7 L174.7,477.9 L179.0,479.6 L183.2,480.4 L185.4,483.8 L188.3,481.3 L192.5,480.4 L196.8,478.7 L200.2,475.3 L203.6,473.6 L206.9,476.2 L210.3,483.0 L213.7,488.9 L216.3,495.7 L219.7,501.6 L223.1,505.0 L225.6,505.8 L229.0,501.6 L232.4,499.9 L235.4,502.6 L237.9,500.5 L240.8,498.3 L243.7,499.0 L246.6,496.1 L249.5,497.9 L253.1,499.8 L256.8,502.7 L260.4,504.1 L264.0,506.3 L266.9,503.4 L269.8,500.5 L272.7,502.7 L275.6,507.0 L277.1,509.9 L278.5,505.6 L281.2,510.6 L282.9,512.8 L284.6,508.5 L286.1,513.5 L287.2,521.5 L289.0,523.7 L290.2,533.9 L291.9,542.6 L293.8,540.0 L295.8,548.8 L297.5,547.0 L299.0,542.6 L301.8,541.8 L304.7,541.8 L307.6,541.4 L310.5,541.1 L313.4,538.2 L316.3,535.3 L318.0,528.8 L320.6,531.0 L323.5,533.1 L326.4,528.1 L329.3,526.6 L332.2,524.4 L334.0,523.9 L338.1,531.1 L342.9,526.3 L346.9,523.9 L351.0,521.5 L354.2,529.5 L359.0,522.3 L363.9,521.5 L367.9,522.3 L371.9,524.7 L376.8,519.0 L380.8,515.0 L384.0,519.8 L387.3,516.6 L391.0,519.0 L394.5,513.4 L397.7,510.2 L401.0,511.0 L404.2,503.7 L407.4,497.3 L410.6,496.5 L413.9,502.1 L417.1,498.9 L420.3,496.5 L423.5,494.0 L426.8,492.4 L428.4,491.1 L432.5,488.4 L436.5,485.7 L440.6,483.7 L444.0,483.0 L446.7,481.0 L449.5,473.5 L452.2,469.4 L454.2,462.6 L456.9,464.6 L460.3,469.4 L464.4,466.7 L467.1,464.0 L469.8,464.0 L473.2,469.4 L477.3,466.0 L480.7,468.0 L484.1,467.4 L487.5,464.0 L490.9,467.4 L494.3,471.4 L498.4,470.8 L501.8,472.1 L504.5,464.6 L507.2,457.9 L509.9,460.6 L512.6,462.6 L516.0,462.6 L518.8,459.9 L520.5,457.5 L522.5,454.6 L525.4,452.6 L528.8,460.1 L532.9,452.6 L536.3,454.6 L539.0,456.0 L543.1,451.9 L547.2,453.3 L549.2,453.3 L552.6,449.9 L555.3,451.9 L557.4,457.4 L559.4,462.8 L562.8,463.5 L566.2,460.8 L569.2,461.4 L571.0,468.9 L573.7,466.2 L577.1,462.1 L579.8,455.3 L583.2,453.3 L586.6,456.0 L590.0,456.0 L593.4,450.6 L596.8,444.5 L600.2,447.2 L603.6,451.9 L607.0,456.0 L610.4,455.3 L613.6,453.3 L617.3,451.1 L620.2,443.9 L622.3,441.7 L624.5,446.0 L627.4,446.8 L630.3,442.4 L633.2,438.1 L636.1,439.5 L639.0,441.0 L641.9,435.2 L644.8,430.8 L647.5,430.8 L649.5,423.5 L651.4,413.4 L653.5,412.7 L656.5,414.8 L659.6,409.8 L663.0,414.1 L665.9,411.9 L669.5,410.5 L673.1,409.0 L675.3,406.9 L677.2,400.3" fill="none" stroke="#f26c10" stroke-width="5.1" stroke-linejoin="round" stroke-linecap="round"/>
<circle cx="677.2" cy="400.3" r="3.0" fill="#fff" stroke="#f26c10" stroke-width="1.7"/>
<g font-family="'Liberation Sans', Arial, sans-serif">
<text x="31.68" y="47.90" font-size="14.6" fill="#383434" stroke="#383434" stroke-width="0.15" textLength="265.65" lengthAdjust="spacingAndGlyphs">EVOLUCIÓN PRECIO DEL DÓLAR EN CHILE</text>
<text x="36.84" y="61.60" font-size="10.4" fill="#383434" stroke="#383434" stroke-width="0.0" textLength="73.28" lengthAdjust="spacingAndGlyphs">PESOS / DÓLAR</text>
<text x="33.40" y="95.90" font-size="10.6" fill="#383434" stroke="#383434" stroke-width="0.0" textLength="16.79" lengthAdjust="spacingAndGlyphs">880</text>
<text x="33.40" y="125.20" font-size="10.6" fill="#383434" stroke="#383434" stroke-width="0.0" textLength="16.79" lengthAdjust="spacingAndGlyphs">850</text>
<text x="33.40" y="154.50" font-size="10.6" fill="#383434" stroke="#383434" stroke-width="0.0" textLength="16.79" lengthAdjust="spacingAndGlyphs">820</text>
<text x="33.29" y="183.70" font-size="10.6" fill="#383434" stroke="#383434" stroke-width="0.0" textLength="16.90" lengthAdjust="spacingAndGlyphs">790</text>
<text x="33.29" y="212.90" font-size="10.6" fill="#383434" stroke="#383434" stroke-width="0.0" textLength="16.90" lengthAdjust="spacingAndGlyphs">760</text>
<text x="33.29" y="242.20" font-size="10.6" fill="#383434" stroke="#383434" stroke-width="0.0" textLength="16.90" lengthAdjust="spacingAndGlyphs">730</text>
<text x="33.29" y="271.50" font-size="10.6" fill="#383434" stroke="#383434" stroke-width="0.0" textLength="16.90" lengthAdjust="spacingAndGlyphs">700</text>
<text x="48.65" y="283.90" font-size="10.4" fill="#383434" stroke="#383434" stroke-width="0.0" textLength="20.65" lengthAdjust="spacingAndGlyphs">OCT.</text>
<text x="93.24" y="283.90" font-size="10.4" fill="#383434" stroke="#383434" stroke-width="0.0" textLength="22.45" lengthAdjust="spacingAndGlyphs">NOV.</text>
<text x="137.07" y="283.90" font-size="10.4" fill="#383434" stroke="#383434" stroke-width="0.0" textLength="18.36" lengthAdjust="spacingAndGlyphs">DIC.</text>
<text x="178.65" y="283.90" font-size="10.4" fill="#383434" stroke="#383434" stroke-width="0.0" textLength="21.83" lengthAdjust="spacingAndGlyphs">ENE.</text>
<text x="224.64" y="283.90" font-size="10.4" fill="#383434" stroke="#383434" stroke-width="0.0" textLength="21.03" lengthAdjust="spacingAndGlyphs">FEB.</text>
<text x="262.41" y="283.90" font-size="10.4" fill="#383434" stroke="#383434" stroke-width="0.0" textLength="24.57" lengthAdjust="spacingAndGlyphs">MAR.</text>
<text x="307.70" y="283.90" font-size="10.4" fill="#383434" stroke="#383434" stroke-width="0.0" textLength="21.78" lengthAdjust="spacingAndGlyphs">ABR.</text>
<text x="349.94" y="283.90" font-size="10.4" fill="#383434" stroke="#383434" stroke-width="0.0" textLength="24.04" lengthAdjust="spacingAndGlyphs">MAY.</text>
<text x="393.72" y="283.90" font-size="10.4" fill="#383434" stroke="#383434" stroke-width="0.0" textLength="19.69" lengthAdjust="spacingAndGlyphs">JUN.</text>
<text x="438.12" y="283.90" font-size="10.4" fill="#383434" stroke="#383434" stroke-width="0.0" textLength="18.65" lengthAdjust="spacingAndGlyphs">JUL.</text>
<text x="481.20" y="283.90" font-size="10.4" fill="#383434" stroke="#383434" stroke-width="0.0" textLength="22.41" lengthAdjust="spacingAndGlyphs">AGO.</text>
<text x="523.52" y="283.90" font-size="10.4" fill="#383434" stroke="#383434" stroke-width="0.0" textLength="20.43" lengthAdjust="spacingAndGlyphs">SEP.</text>
<text x="566.76" y="283.90" font-size="10.4" fill="#383434" stroke="#383434" stroke-width="0.0" textLength="20.12" lengthAdjust="spacingAndGlyphs">OCT.</text>
<text x="611.12" y="283.90" font-size="10.4" fill="#383434" stroke="#383434" stroke-width="0.0" textLength="22.99" lengthAdjust="spacingAndGlyphs">NOV.</text>
<text x="653.09" y="283.90" font-size="10.4" fill="#383434" stroke="#383434" stroke-width="0.0" textLength="17.70" lengthAdjust="spacingAndGlyphs">DIC.</text>
<text x="680.92" y="283.90" font-size="10.4" fill="#383434" stroke="#383434" stroke-width="0.0" textLength="10.90" lengthAdjust="spacingAndGlyphs">17</text>
<text x="103.34" y="300.60" font-size="11.4" fill="#383434" stroke="#383434" stroke-width="0.0" textLength="24.86" lengthAdjust="spacingAndGlyphs">2019</text>
<text x="453.34" y="300.40" font-size="11.4" fill="#383434" stroke="#383434" stroke-width="0.0" textLength="24.86" lengthAdjust="spacingAndGlyphs">2020</text>
<text x="601.16" y="305.20" font-size="8.8" fill="#383434" stroke="#383434" stroke-width="0.0" textLength="89.85" lengthAdjust="spacingAndGlyphs">FUENTE: BLOOMBERG.</text>
<text x="639.96" y="171.60" font-size="18.6" fill="#e8661c" stroke="#e8661c" stroke-width="0.4" textLength="57.45" lengthAdjust="spacingAndGlyphs">721,99</text>
<text x="17.78" y="338.70" font-size="15.4" fill="#383434" stroke="#383434" stroke-width="0.15" textLength="204.46" lengthAdjust="spacingAndGlyphs">EVOLUCIÓN PRECIO DEL COBRE</text>
<text x="18.04" y="352.60" font-size="11.6" fill="#383434" stroke="#383434" stroke-width="0.0" textLength="117.41" lengthAdjust="spacingAndGlyphs">DÓLAR/ LIBRA DE COBRE</text>
<text x="27.88" y="386.20" font-size="9.8" fill="#383434" stroke="#383434" stroke-width="0.0" textLength="14.54" lengthAdjust="spacingAndGlyphs">3,8</text>
<text x="27.88" y="415.40" font-size="9.8" fill="#383434" stroke="#383434" stroke-width="0.0" textLength="14.54" lengthAdjust="spacingAndGlyphs">3,5</text>
<text x="27.88" y="444.80" font-size="9.8" fill="#383434" stroke="#383434" stroke-width="0.0" textLength="14.65" lengthAdjust="spacingAndGlyphs">3,2</text>
<text x="27.77" y="474.10" font-size="9.8" fill="#383434" stroke="#383434" stroke-width="0.0" textLength="14.76" lengthAdjust="spacingAndGlyphs">2,9</text>
<text x="27.77" y="503.30" font-size="9.8" fill="#383434" stroke="#383434" stroke-width="0.0" textLength="14.65" lengthAdjust="spacingAndGlyphs">2,6</text>
<text x="27.77" y="532.80" font-size="9.8" fill="#383434" stroke="#383434" stroke-width="0.0" textLength="14.65" lengthAdjust="spacingAndGlyphs">2,3</text>
<text x="27.77" y="561.90" font-size="9.8" fill="#383434" stroke="#383434" stroke-width="0.0" textLength="14.65" lengthAdjust="spacingAndGlyphs">2,0</text>
<text x="40.74" y="573.90" font-size="10.4" fill="#383434" stroke="#383434" stroke-width="0.0" textLength="20.76" lengthAdjust="spacingAndGlyphs">OCT.</text>
<text x="85.02" y="573.90" font-size="10.4" fill="#383434" stroke="#383434" stroke-width="0.0" textLength="22.88" lengthAdjust="spacingAndGlyphs">NOV.</text>
<text x="129.10" y="573.90" font-size="10.4" fill="#383434" stroke="#383434" stroke-width="0.0" textLength="17.38" lengthAdjust="spacingAndGlyphs">DIC.</text>
<text x="170.66" y="573.90" font-size="10.4" fill="#383434" stroke="#383434" stroke-width="0.0" textLength="21.61" lengthAdjust="spacingAndGlyphs">ENE.</text>
<text x="217.08" y="573.90" font-size="10.4" fill="#383434" stroke="#383434" stroke-width="0.0" textLength="19.95" lengthAdjust="spacingAndGlyphs">FEB.</text>
<text x="254.94" y="573.90" font-size="10.4" fill="#383434" stroke="#383434" stroke-width="0.0" textLength="23.61" lengthAdjust="spacingAndGlyphs">MAR.</text>
<text x="299.80" y="573.90" font-size="10.4" fill="#383434" stroke="#383434" stroke-width="0.0" textLength="21.67" lengthAdjust="spacingAndGlyphs">ABR.</text>
<text x="341.78" y="573.90" font-size="10.4" fill="#383434" stroke="#383434" stroke-width="0.0" textLength="23.07" lengthAdjust="spacingAndGlyphs">MAY.</text>
<text x="385.73" y="573.90" font-size="10.4" fill="#383434" stroke="#383434" stroke-width="0.0" textLength="19.27" lengthAdjust="spacingAndGlyphs">JUN.</text>
<text x="430.44" y="573.90" font-size="10.4" fill="#383434" stroke="#383434" stroke-width="0.0" textLength="16.85" lengthAdjust="spacingAndGlyphs">JUL.</text>
<text x="473.70" y="573.90" font-size="10.4" fill="#383434" stroke="#383434" stroke-width="0.0" textLength="21.27" lengthAdjust="spacingAndGlyphs">AGO.</text>
<text x="515.63" y="573.90" font-size="10.4" fill="#383434" stroke="#383434" stroke-width="0.0" textLength="20.22" lengthAdjust="spacingAndGlyphs">SEP.</text>
<text x="558.94" y="573.90" font-size="10.4" fill="#383434" stroke="#383434" stroke-width="0.0" textLength="20.86" lengthAdjust="spacingAndGlyphs">OCT.</text>
<text x="603.32" y="573.90" font-size="10.4" fill="#383434" stroke="#383434" stroke-width="0.0" textLength="22.88" lengthAdjust="spacingAndGlyphs">NOV.</text>
<text x="645.08" y="573.90" font-size="10.4" fill="#383434" stroke="#383434" stroke-width="0.0" textLength="17.92" lengthAdjust="spacingAndGlyphs">DIC.</text>
<text x="672.81" y="573.90" font-size="10.4" fill="#383434" stroke="#383434" stroke-width="0.0" textLength="11.01" lengthAdjust="spacingAndGlyphs">17</text>
<text x="92.45" y="592.60" font-size="11.4" fill="#383434" stroke="#383434" stroke-width="0.0" textLength="24.44" lengthAdjust="spacingAndGlyphs">2019</text>
<text x="442.26" y="592.50" font-size="11.4" fill="#383434" stroke="#383434" stroke-width="0.0" textLength="24.23" lengthAdjust="spacingAndGlyphs">2020</text>
<text x="591.07" y="592.50" font-size="8.6" fill="#383434" stroke="#383434" stroke-width="0.0" textLength="88.63" lengthAdjust="spacingAndGlyphs">FUENTE: BLOOMBERG.</text>
<text x="630.15" y="370.40" font-size="19.0" fill="#e8661c" stroke="#e8661c" stroke-width="0.4" textLength="57.68" lengthAdjust="spacingAndGlyphs">3,5995</text>
</g>
</svg>
</body></html>
